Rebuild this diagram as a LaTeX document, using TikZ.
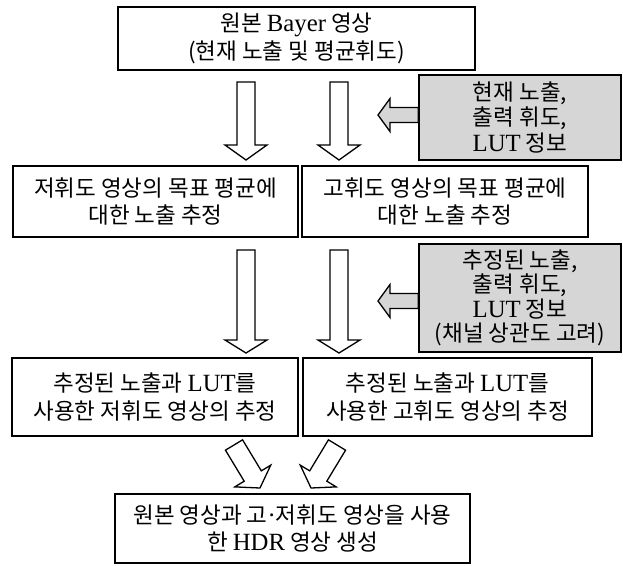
\documentclass[tikz,border=0pt]{standalone}
\usepackage{fontspec}
\setmainfont{Noto Sans CJK KR}
\newfontfamily\lat[Scale=1.1]{Liberation Serif}
\usetikzlibrary{calc}
\definecolor{boxgray}{HTML}{D6D6D6}
\newcommand\blockarrow[6]{%
  \coordinate (ba-h) at ($(#2)!#5!(#1)$);
  \filldraw[#6] ($(#1)!#3!90:(#2)$) -- ($(ba-h)!#3!90:(#2)$) -- ($(ba-h)!#4!90:(#2)$) -- (#2)
    -- ($(ba-h)!#4!-90:(#2)$) -- ($(ba-h)!#3!-90:(#2)$) -- ($(#1)!#3!-90:(#2)$) -- cycle;
}
\begin{document}
\begin{tikzpicture}[x=1pt,y=-1pt,
  box/.style={draw, line width=1.6pt, fill=white, inner sep=0pt, align=center,
    font=\fontsize{22.5}{27.5}\selectfont},
  graybox/.style={box, fill=boxgray},
  whitearrow/.style={draw, line width=1.3pt, fill=white},
  grayarrow/.style={draw, line width=1.3pt, fill=boxgray}]
\useasboundingbox (0,0) rectangle (623,565);

\node[box, minimum width=357pt, minimum height=63pt] (top) at (296.5,38.5)
  {원본 {\lat Bayer} 영상\\(현재 노출 및 평균휘도)};
\node[graybox, minimum width=202pt, minimum height=85pt,
  font=\fontsize{22.5}{25.5}\selectfont] (g1) at (520,117.5)
  {현재 노출,\\출력 휘도,\\{\lat LUT} 정보};
\node[box, minimum width=285pt, minimum height=71pt] (r2l) at (155.5,201.5)
  {저휘도 영상의 목표 평균에\\대한 노출 추정};
\node[box, minimum width=286pt, minimum height=71pt] (r2r) at (445,201.5)
  {고휘도 영상의 목표 평균에\\대한 노출 추정};
\node[graybox, minimum width=202pt, minimum height=108pt,
  font=\fontsize{22.5}{24.5}\selectfont] (g2) at (520,298)
  {추정된 노출,\\출력 휘도,\\{\lat LUT} 정보\\(채널 상관도 고려)};
\node[box, minimum width=286pt, minimum height=78pt] (r3l) at (155,397)
  {추정된 노출과 {\lat LUT}를\\사용한 저휘도 영상의 추정};
\node[box, minimum width=289pt, minimum height=78pt] (r3r) at (447.5,397)
  {추정된 노출과 {\lat LUT}를\\사용한 고휘도 영상의 추정};
\node[box, minimum width=355pt, minimum height=69pt] (bot) at (292.5,528.5)
  {원본 영상과 고{\lat ·}저휘도 영상을 사용\\한 {\lat HDR} 영상 생성};

% arrow end points
\coordinate (a1s) at (246,82);  \coordinate (a1e) at (246,160);
\coordinate (a2s) at (339,82);  \coordinate (a2e) at (339,160);
\coordinate (a3s) at (246,250); \coordinate (a3e) at (246,353);
\coordinate (a4s) at (339,250); \coordinate (a4e) at (339,353);
\coordinate (l1e) at (378,115);
\coordinate (l2e) at (378,301);
\coordinate (d1s) at (234,445); \coordinate (d1e) at (260,488);
\coordinate (d2s) at (337,445); \coordinate (d2e) at (311,488);

\blockarrow{a1s}{a1e}{9pt}{21pt}{15pt}{whitearrow}
\blockarrow{a2s}{a2e}{9pt}{21pt}{15pt}{whitearrow}
\blockarrow{a3s}{a3e}{9pt}{21pt}{13pt}{whitearrow}
\blockarrow{a4s}{a4e}{9pt}{21pt}{13pt}{whitearrow}
\blockarrow{g1.west|-l1e}{l1e}{7.5pt}{16.5pt}{12pt}{grayarrow}
\blockarrow{g2.west|-l2e}{l2e}{7.5pt}{16.5pt}{12pt}{grayarrow}
\blockarrow{d1s}{d1e}{10pt}{21pt}{14pt}{whitearrow}
\blockarrow{d2s}{d2e}{10pt}{21pt}{14pt}{whitearrow}
\end{tikzpicture}
\end{document}
